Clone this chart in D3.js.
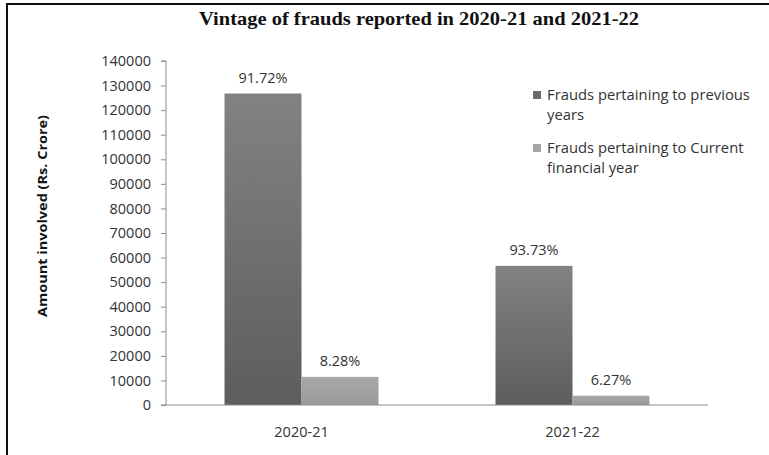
<!DOCTYPE html>
<html>
<head>
<meta charset="utf-8">
<script src="https://cdn.jsdelivr.net/npm/d3@7"></script>
<style>
  html, body { margin: 0; padding: 0; background: #fff; }
  svg { display: block; }
</style>
</head>
<body>
<svg id="chart" width="769" height="455"></svg>
<script>
// ---- data ----
const categories = ["2020-21", "2021-22"];
const seriesNames = ["Frauds pertaining to previous years", "Frauds pertaining to Current financial year"];
const previousYears = [126767, 56626];
const currentYear = [11444, 3788];
const shareLabels = [["91.72%", "8.28%"], ["93.73%", "6.27%"]];
const yTicks = [0, 10000, 20000, 30000, 40000, 50000, 60000, 70000, 80000, 90000, 100000, 110000, 120000, 130000, 140000];
const legendLines = [["Frauds pertaining to previous", "years"], ["Frauds pertaining to Current", "financial year"]];

const svg = d3.select("#chart");
const font = "'Open Sans', sans-serif";

// frame
svg.append("path").attr("d", "M7,455 V4 H769").attr("fill", "none").attr("stroke", "#111").attr("stroke-width", 2);

// gradients
const defs = svg.append("defs");
const g1 = defs.append("linearGradient").attr("id", "gDark").attr("x1", 0).attr("y1", 0).attr("x2", 0).attr("y2", 1);
g1.append("stop").attr("offset", "0%").attr("stop-color", "#828282");
g1.append("stop").attr("offset", "100%").attr("stop-color", "#5d5d5d");
const g2 = defs.append("linearGradient").attr("id", "gLight").attr("x1", 0).attr("y1", 0).attr("x2", 0).attr("y2", 1);
g2.append("stop").attr("offset", "0%").attr("stop-color", "#a8a8a8");
g2.append("stop").attr("offset", "100%").attr("stop-color", "#9a9a9a");
const fills = ["url(#gDark)", "url(#gLight)"];
const legendFills = ["#6b6b6b", "#a5a5a5"];

const plotLeft = 166, plotRight = 708, plotTop = 61, plotBottom = 405;

const y = d3.scaleLinear().domain([0, 140000]).range([plotBottom, plotTop]);
const x0 = d3.scaleBand().domain(categories).range([plotLeft, plotRight]).paddingInner(0).paddingOuter(0);
const x1 = d3.scaleBand().domain([0, 1]).range([0, x0.bandwidth()]).paddingInner(0).paddingOuter(0.76);

// title
svg.append("text")
  .attr("x", 419).attr("y", 25)
  .attr("text-anchor", "middle")
  .attr("font-family", "'Liberation Serif', 'Times New Roman', serif")
  .attr("font-weight", "bold").attr("font-size", 19)
  .attr("textLength", 440).attr("lengthAdjust", "spacingAndGlyphs")
  .attr("fill", "#111")
  .text("Vintage of frauds reported in 2020-21 and 2021-22");

// y axis
const yAxis = svg.append("g").attr("transform", `translate(${plotLeft},0)`)
  .call(d3.axisLeft(y).tickValues(yTicks).tickSize(5).tickPadding(10).tickFormat(d3.format("d")));
yAxis.select(".domain").attr("stroke", "#8c8c8c").attr("d", `M-5,${plotTop}H0V${plotBottom}`);
yAxis.selectAll(".tick line").attr("stroke", "#8c8c8c");
yAxis.selectAll(".tick text").attr("font-family", font).attr("font-size", 14.5).attr("fill", "#333");

// y axis title
svg.append("text")
  .attr("transform", "translate(47,216) rotate(-90)")
  .attr("text-anchor", "middle")
  .attr("font-family", font).attr("font-weight", "bold").attr("font-size", 12.5)
  .attr("textLength", 202).attr("lengthAdjust", "spacingAndGlyphs")
  .attr("fill", "#111")
  .text("Amount involved (Rs. Crore)");

// bars
const rows = categories.map((c, i) => ({ cat: c, vals: [previousYears[i], currentYear[i]], labels: shareLabels[i] }));
const groups = svg.append("g").selectAll("g").data(rows).join("g")
  .attr("transform", d => `translate(${x0(d.cat)},0)`);
groups.selectAll("rect").data(d => d.vals.map((v, k) => ({ v, k }))).join("rect")
  .attr("x", d => x1(d.k)).attr("width", x1.bandwidth())
  .attr("y", d => y(d.v)).attr("height", d => y(0) - y(d.v))
  .attr("fill", d => fills[d.k]);
groups.selectAll("text.lbl").data(d => d.vals.map((v, k) => ({ v, k, t: d.labels[k] }))).join("text")
  .attr("class", "lbl")
  .attr("x", d => x1(d.k) + x1.bandwidth() / 2).attr("y", d => y(d.v) - 11)
  .attr("text-anchor", "middle")
  .attr("font-family", font).attr("font-size", 14.5).attr("fill", "#333")
  .text(d => d.t);

// x axis baseline
const xAxis = svg.append("g").attr("transform", `translate(0,${plotBottom})`)
  .call(d3.axisBottom(x0).tickSize(0).tickPadding(22));
xAxis.select(".domain").attr("stroke", "#8c8c8c").attr("d", `M${plotLeft - 5},0H${plotRight}`);
xAxis.selectAll(".tick text").attr("font-family", font).attr("font-size", 14.5).attr("fill", "#333");

// legend
const legend = svg.append("g");
const legendY = [95, 148];
seriesNames.forEach((name, i) => {
  legend.append("rect").attr("x", 533).attr("y", legendY[i] - 4).attr("width", 8).attr("height", 8).attr("fill", legendFills[i]);
  legendLines[i].forEach((line, j) => {
    legend.append("text")
      .attr("x", 547).attr("y", legendY[i] + 5 + j * 20)
      .attr("font-family", font).attr("font-size", 14.8).attr("fill", "#333")
      .text(line);
  });
});
</script>
</body>
</html>
